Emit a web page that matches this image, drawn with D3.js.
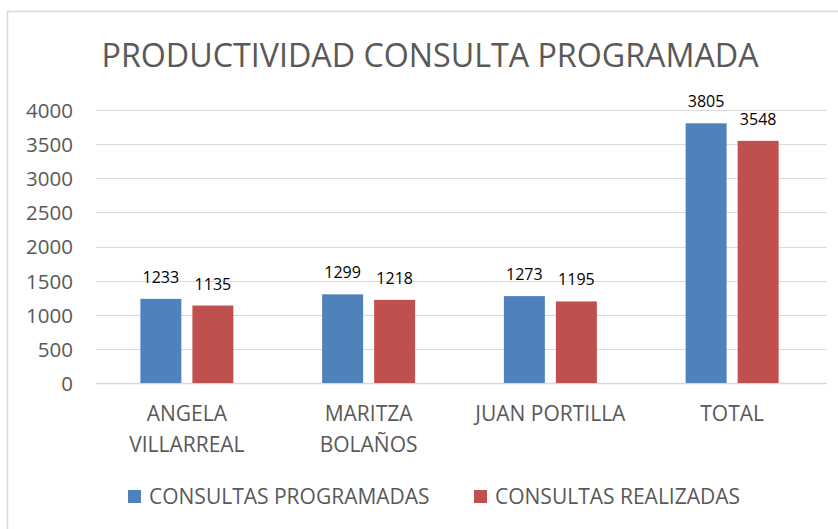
<!DOCTYPE html>
<html>
<head>
<meta charset="utf-8">
<title>Productividad consulta programada</title>
<script src="https://d3js.org/d3.v7.min.js"></script>
<style>
  body { margin: 0; background: #fff; }
  text { font-family: "Open Sans", "Noto Sans", sans-serif; }
</style>
</head>
<body>
<div id="chart"></div>
<script>
// datos
const categorias = [["ANGELA", "VILLARREAL"], ["MARITZA", "BOLAÑOS"], ["JUAN PORTILLA"], ["TOTAL"]];
const series = ["CONSULTAS PROGRAMADAS", "CONSULTAS REALIZADAS"];
const programadas = [1233, 1299, 1273, 3805];
const realizadas = [1135, 1218, 1195, 3548];
const ticks = [0, 500, 1000, 1500, 2000, 2500, 3000, 3500, 4000];
const colores = ["#4f81bd", "#c0504d"];

const W = 838, H = 529;
const svg = d3.select("#chart").append("svg")
    .attr("width", W).attr("height", H);

// marco
svg.append("rect")
    .attr("x", 7.5).attr("y", 11.5)
    .attr("width", W + 20).attr("height", H + 20)
    .attr("fill", "none").attr("stroke", "#d9d9d9").attr("stroke-width", 1.5);

// título
svg.append("text")
    .attr("x", 430).attr("y", 67)
    .attr("text-anchor", "middle")
    .attr("font-size", 33.5)
    .attr("fill", "#595959")
    .attr("textLength", 657).attr("lengthAdjust", "spacingAndGlyphs")
    .text("PRODUCTIVIDAD CONSULTA PROGRAMADA");

const nombres = categorias.map(c => c.join(" "));
const x = d3.scaleBand().domain(nombres).range([96, 823]);
const xs = d3.scaleBand().domain(series).range([-46.5, 46.5]).paddingInner(0.212);
const y = d3.scaleLinear().domain([0, 4000]).range([383, 110]);

// cuadrícula
svg.append("g").selectAll("line")
    .data(ticks).join("line")
    .attr("x1", 96).attr("x2", 827)
    .attr("y1", d => Math.round(y(d)) + 0.5).attr("y2", d => Math.round(y(d)) + 0.5)
    .attr("stroke", "#d9d9d9").attr("stroke-width", d => d === 0 ? 1.5 : 1.2);

// eje Y
const yAxis = d3.axisLeft(y).tickValues(ticks).tickFormat(d3.format("d"))
    .tickSize(0).tickPadding(0);
svg.append("g")
    .attr("transform", "translate(73,0)")
    .call(yAxis)
    .call(g => g.select(".domain").remove())
    .call(g => g.selectAll("text")
        .attr("font-size", 20.5).attr("fill", "#595959")
        .attr("font-family", "'Open Sans', sans-serif")
        .attr("dy", "0.36em"));

// barras
const valores = [programadas, realizadas];
series.forEach((s, i) => {
    const g = svg.append("g");
    g.selectAll("rect")
        .data(valores[i]).join("rect")
        .attr("x", (d, j) => x(nombres[j]) + x.bandwidth() / 2 + xs(s))
        .attr("y", d => y(d))
        .attr("width", xs.bandwidth())
        .attr("height", d => y(0) - y(d))
        .attr("fill", colores[i]);
    g.selectAll("text")
        .data(valores[i]).join("text")
        .attr("x", (d, j) => x(nombres[j]) + x.bandwidth() / 2 + xs(s) + xs.bandwidth() / 2)
        .attr("y", d => y(d) - 16)
        .attr("text-anchor", "middle")
        .attr("font-size", 16)
        .attr("fill", "#000")
        .text(d => d);
});

// etiquetas de categoría
const cat = svg.append("g").selectAll("text")
    .data(categorias).join("text")
    .attr("x", (d, j) => x(nombres[j]) + x.bandwidth() / 2)
    .attr("y", 421)
    .attr("text-anchor", "middle")
    .attr("font-size", 21)
    .attr("fill", "#595959");
cat.selectAll("tspan")
    .data(d => d).join("tspan")
    .attr("x", function () { return this.parentNode.getAttribute("x"); })
    .attr("dy", (d, k) => k === 0 ? 0 : 31)
    .text(d => d);

// leyenda
const leyX = [128, 474];
const leyenda = svg.append("g").selectAll("g")
    .data(series).join("g")
    .attr("transform", (d, i) => "translate(" + leyX[i] + ",0)");
leyenda.append("rect")
    .attr("x", 0).attr("y", 490)
    .attr("width", 13).attr("height", 13)
    .attr("fill", (d, i) => colores[i]);
leyenda.append("text")
    .attr("x", 21).attr("y", 504)
    .attr("font-size", 21)
    .attr("fill", "#595959")
    .text(d => d);
</script>
</body>
</html>
